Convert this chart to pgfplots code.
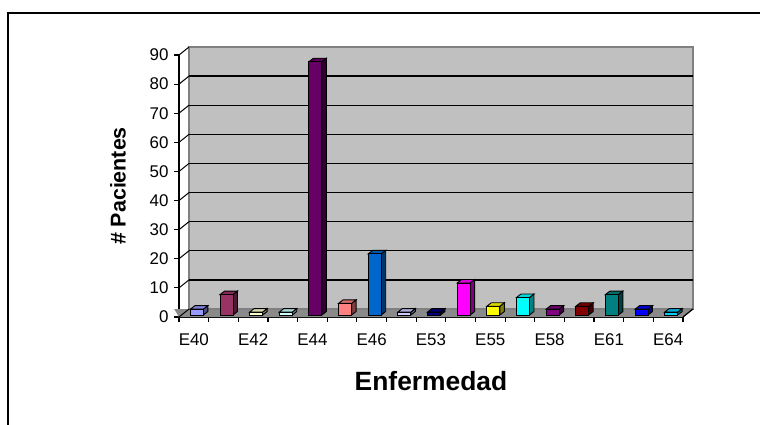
\documentclass[border=0pt]{standalone}
\usepackage{pgfplots}
\pgfplotsset{compat=1.18}
\usepackage{pgfplotstable}
\usepackage{fontspec}
\setmainfont{Liberation Sans}
\definecolor{wallgray}{HTML}{C0C0C0}
\definecolor{edgegray}{HTML}{808080}
\definecolor{floorgray}{HTML}{8A8A8A}
\definecolor{cA}{HTML}{9999FF}
\definecolor{cB}{HTML}{993366}
\definecolor{cC}{HTML}{FFFFCC}
\definecolor{cD}{HTML}{CCFFFF}
\definecolor{cE}{HTML}{660066}
\definecolor{cF}{HTML}{FF8080}
\definecolor{cG}{HTML}{0066CC}
\definecolor{cH}{HTML}{CCCCFF}
\definecolor{cI}{HTML}{000080}
\definecolor{cJ}{HTML}{FF00FF}
\definecolor{cK}{HTML}{FFFF00}
\definecolor{cL}{HTML}{00FFFF}
\definecolor{cM}{HTML}{800080}
\definecolor{cN}{HTML}{800000}
\definecolor{cO}{HTML}{008080}
\definecolor{cP}{HTML}{0000FF}
\definecolor{cQ}{HTML}{00CCFF}
\pgfdeclareplotmark{blank}{}
\pgfplotstableread{
x y
1 2
2 7
3 1
4 1
5 87
6 4
7 21
8 1
9 1
10 11
11 3
12 6
13 2
14 3
15 7
16 2
17 1
}\bardata
\begin{document}
\begin{tikzpicture}[x=1bp,y=1bp]
\useasboundingbox (0,0) rectangle (760,424);
\draw[line width=2bp, black] (8,-5) -- (8,411) -- (770,411);
\begin{axis}[
  scale only axis, width=504bp, height=262bp,
  at={(179bp,107bp)}, anchor=south west,
  clip=false,
  xmin=0.5, xmax=17.5, ymin=0, ymax=90,
  axis x line*=bottom, axis y line*=left,
  axis line style={-, line width=1.2bp, black},
  xtick={0.5,1.5,...,17.5},
  xticklabels={E40,,E42,,E44,,E46,,E53,,E55,,E58,,E61,,E64,},
  xticklabel style={xshift=14.82bp, yshift=-8bp},
  yticklabel style={xshift=-2bp},
  ytick={0,10,...,90},
  tick align=outside,
  major tick length=5bp,
  tick style={black, line width=1.2bp},
  /pgf/number format/assume math mode=true,
  tick label style={font=\fontsize{17}{19}\selectfont},
  xlabel={Enfermedad},
  xlabel style={font=\bfseries\fontsize{26.5}{30}\selectfont, at={(axis description cs:0.5,-0.245)}, anchor=center},
  ylabel={\# Pacientes},
  ylabel style={font=\bfseries\fontsize{21.5}{24}\selectfont, at={(axis description cs:-0.121,0.5)}, anchor=center},
]
% floor
\fill[floorgray] (axis cs:0.5,0) -- (axis cs:17.5,0) -- ++(10bp,8bp) -- ++(-504bp,0) -- cycle;
% back wall
\filldraw[fill=wallgray, draw=edgegray, line width=2bp, shift={(10bp,8bp)}] (axis cs:0.5,0) rectangle (axis cs:17.5,90);
% gridlines on back wall
\pgfplotsinvokeforeach{10,20,30,40,50,60,70,80}{
  \draw[black, line width=1.4bp, shift={(10bp,8bp)}] (axis cs:0.5,#1) -- (axis cs:17.5,#1);
}
% side wall diagonals
\pgfplotsinvokeforeach{0,10,20,30,40,50,60,70,80,90}{
  \draw[black, line width=1bp] (axis cs:0.5,#1) -- ++(10bp,8bp);
}
\draw[black, line width=1.2bp] (axis cs:17.5,0) -- ++(10bp,8bp);
% bars
\addplot[scatter, only marks, mark=blank,
  visualization depends on={\thisrow{y} \as \val},
  visualization depends on={\thisrow{x} \as \idx},
  scatter/@pre marker code/.code={%
    \pgfmathsetlengthmacro\hh{\val*2.9111*1.00375}%
    \pgfmathtruncatemacro\ci{round(\idx)}%
    \edef\cname{c\ifcase\ci\or A\or B\or C\or D\or E\or F\or G\or H\or I\or J\or K\or L\or M\or N\or O\or P\or Q\fi}%
    \filldraw[fill=\cname!50!black, draw=black, line width=0.9bp] (9.5bp,2bp-\hh) -- (14bp,5.5bp-\hh) -- (14bp,5.5bp) -- (9.5bp,2bp) -- cycle;
    \filldraw[fill=\cname!85!black, draw=black, line width=0.9bp] (-3.5bp,2bp) -- (1bp,5.5bp) -- (14bp,5.5bp) -- (9.5bp,2bp) -- cycle;
    \filldraw[fill=\cname, draw=black, line width=0.9bp] (-3.5bp,2bp-\hh) rectangle (9.5bp,2bp);
  },
  scatter/@post marker code/.code={},
] table[x=x, y=y] {\bardata};
\end{axis}
\end{tikzpicture}
\end{document}
